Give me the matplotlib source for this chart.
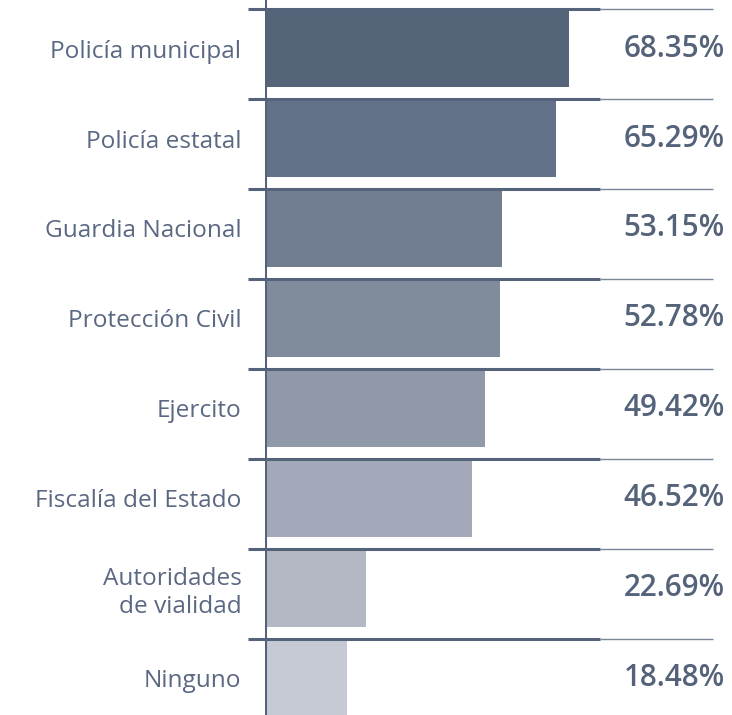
import matplotlib.pyplot as plt

# datos
categorias = ['Policía municipal', 'Policía estatal', 'Guardia Nacional',
              'Protección Civil', 'Ejercito', 'Fiscalía del Estado',
              'Autoridades\nde vialidad', 'Ninguno']
porcentajes = [68.35, 65.29, 53.15, 52.78, 49.42, 46.52, 22.69, 18.48]
colores = ['#56647a', '#637189', '#717d90', '#808b9c', '#8f99a9',
           '#a3a9b8', '#b4b8c4', '#c5cad5']

color_eje = '#55637a'
color_texto = '#5b6882'

plt.rcParams['font.family'] = ['Open Sans', 'DejaVu Sans']

fig = plt.figure(figsize=(7.32, 7.15), dpi=100)
ax = fig.add_axes([265 / 732, 0, 445 / 732, 1])

pos = list(range(len(categorias)))
ax.barh(pos, porcentajes, height=0.857, color=colores, zorder=2)

ax.set_xlim(0, 100)
ax.set_ylim(7.41, -0.54)

# separadores entre filas
for p in pos:
    y = p - 0.44
    ax.plot([-3.8, 75.3], [y, y], color=color_eje, lw=2.2,
            clip_on=False, zorder=3, solid_capstyle='butt')
    ax.plot([75.3, 100.7], [y, y], color='#7a8598', lw=1,
            clip_on=False, zorder=3, solid_capstyle='butt')

ax.axvline(0, color=color_eje, lw=2.2, zorder=4)

# valores a la derecha
for p, v in zip(pos, porcentajes):
    ax.text(103.3, p, f'{v:.2f}%', ha='right', va='center',
            fontsize=21.3, fontweight='semibold', color=color_eje,
            clip_on=False)

ax.set_yticks(pos)
ax.set_yticklabels(categorias, fontsize=17.6, color=color_texto,
                   ha='right', linespacing=1.2)
ax.tick_params(axis='y', length=0, pad=17)
ax.set_xticks([])
for s in ax.spines.values():
    s.set_visible(False)

plt.savefig('out.png', dpi=100)
